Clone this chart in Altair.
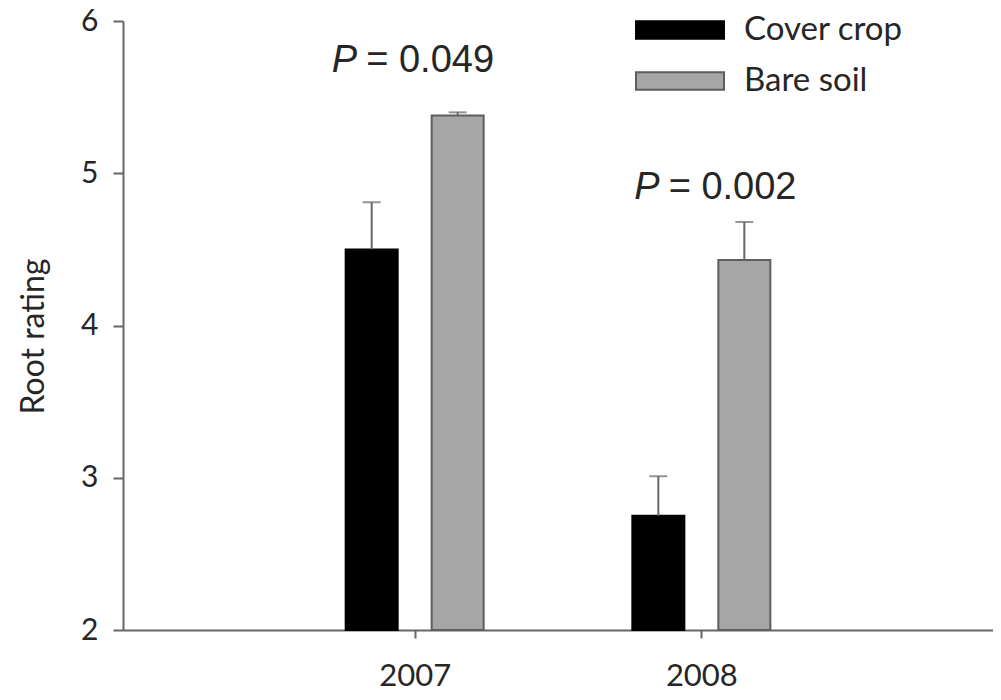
import altair as alt
import pandas as pd

# ---- data ----
years = [2007, 2007, 2008, 2008]
treatments = ["Cover crop", "Bare soil", "Cover crop", "Bare soil"]
means = [4.50, 5.38, 2.75, 4.43]
errors = [0.31, 0.02, 0.26, 0.25]

p_years = [2007, 2008]
p_values = ["= 0.049", "= 0.002"]
p_label_y = [5.665, 4.834]
p_label_shift = [-0.169, -0.114]   # label anchor relative to year (years)

tick_years = [2007, 2008]
y_ticks = [2, 3, 4, 5, 6]

df = pd.DataFrame({"year": years, "treatment": treatments, "mean": means, "err": errors})
pdf = pd.DataFrame({"year": p_years, "text": p_values, "ly": p_label_y, "shift": p_label_shift})

AXIS_GRAY = "#666666"
TXT = "#262626"
SANS = "Lato"

xscale = alt.Scale(domain=[2006, 2009], nice=False, zero=False)
yscale = alt.Scale(domain=[2, 6], nice=False, zero=False)

base = alt.Chart(df).transform_calculate(
    xpos="datum.year + (datum.treatment == 'Cover crop' ? -0.15 : 0.15)",
    upper="datum.mean + datum.err",
)

order = ["Cover crop", "Bare soil"]

bars = base.mark_bar(size=52, strokeWidth=2).encode(
    x=alt.X("xpos:Q", scale=xscale,
            axis=alt.Axis(values=tick_years, format="d", title=None, grid=False,
                          tickSize=8, labelPadding=23, labelFontSize=31)),
    y=alt.Y("mean:Q", scale=yscale,
            axis=alt.Axis(values=y_ticks, format="d", title="Root rating", grid=False,
                          tickSize=10, labelPadding=15, labelFontSize=30,
                          titleFontSize=32, titleFontWeight="normal",
                          titleX=-90, titleY=315, titleBaseline="middle",
                          titleAngle=-90)),
    y2=alt.datum(2),
    fill=alt.Fill("treatment:N",
                  scale=alt.Scale(domain=order, range=["#000000", "#a6a6a6"]),
                  legend=alt.Legend(title=None)),
    stroke=alt.Stroke("treatment:N",
                      scale=alt.Scale(domain=order, range=["#000000", "#5e5e5e"]),
                      legend=alt.Legend(title=None)),
)

err_rule = base.mark_rule(color=AXIS_GRAY, strokeWidth=2).encode(
    x="xpos:Q", y="mean:Q", y2="upper:Q"
)
err_cap = base.mark_tick(orient="horizontal", size=18, thickness=2, color=AXIS_GRAY).encode(
    x="xpos:Q", y="upper:Q"
)

ptext = alt.Chart(pdf).transform_calculate(lx="datum.year + datum.shift")
p_italic = ptext.mark_text(font="Liberation Sans", fontSize=38, fontStyle="italic",
                           align="right", baseline="alphabetic", dx=-9, color=TXT).encode(
    x="lx:Q", y="ly:Q", text=alt.value("P"))
p_rest = ptext.mark_text(font="Liberation Sans", fontSize=38,
                         align="left", baseline="alphabetic", color=TXT).encode(
    x="lx:Q", y="ly:Q", text="text:N")

chart = alt.layer(bars, err_rule, err_cap, p_italic, p_rest).properties(
    width=870, height=609,
    padding={"left": 115, "top": 13, "right": 0, "bottom": 62},
    autosize=alt.AutoSizeParams(type="none"),
).configure_view(stroke=None).configure_axis(
    domainColor=AXIS_GRAY, domainWidth=2, tickColor=AXIS_GRAY, tickWidth=2,
    labelFont=SANS, titleFont=SANS, labelColor=TXT, titleColor=TXT,
).configure_legend(
    orient="none", legendX=512, legendY=-11,
    symbolType="M-1,-0.2L1,-0.2L1,0.2L-1,0.2Z", symbolSize=7744,
    symbolStrokeWidth=2, labelFont=SANS, labelFontSize=33, labelColor=TXT,
    labelOffset=19, rowPadding=11, clipHeight=40,
)

chart.save("out.html", embed_options={"renderer": "svg", "actions": False})
